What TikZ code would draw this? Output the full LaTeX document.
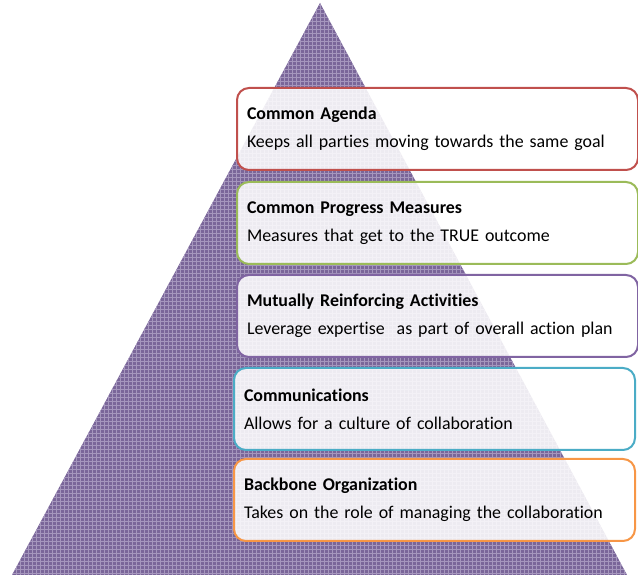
\documentclass[tikz,border=0pt]{standalone}
\usepackage{fontspec}
\setmainfont{Carlito}[Ligatures=NoCommon, WordSpace=0.7]
\usepackage{tikz}

\definecolor{pyramid}{HTML}{7A6699}
\definecolor{pyramidgrid}{HTML}{A596BD}
\definecolor{agendared}{HTML}{C0504D}
\definecolor{progressgreen}{HTML}{9BBB59}
\definecolor{activitiespurple}{HTML}{8064A2}
\definecolor{commsblue}{HTML}{4BACC6}
\definecolor{backboneorange}{HTML}{F79646}

\tikzset{layer/.style={draw=#1, line width=2pt, rounded corners=12pt,
                       fill=white, fill opacity=0.87, text opacity=1,
                       anchor=north west, minimum height=82pt,
                       text width=381pt, inner xsep=10pt, align=left,
                       font=\fontsize{17.9}{28}\selectfont}}

\begin{document}
\begin{tikzpicture}[x=1pt, y=1pt]
                      \useasboundingbox (0,0) rectangle (638,577);
                      \coordinate (apex) at (320,574);
                      \coordinate (baseL) at (12,2);
                      \coordinate (baseR) at (627,2);

                      % pyramid with its checked fill
                      \begin{scope}
                              \clip (apex) -- (baseL) -- (baseR) -- cycle;
                              \fill[pyramid] (0,0) rectangle (638,577);
                              \draw[pyramidgrid, line width=0.6pt, step=4] (0,0) grid (640,580);
                          \end{scope}

                      \foreach \name/\col/\x/\y/\title/\desc in {
                              agenda/agendared/236/490/Common Agenda/Keeps all parties moving towards the same goal,
                              progress/progressgreen/236/396/Common Progress Measures/Measures that get to the TRUE outcome,
                              activities/activitiespurple/236/303/Mutually Reinforcing Activities/Leverage expertise\ \ as part of overall action plan,
                              comms/commsblue/233/210/Communications/Allows for a culture of collaboration,
                              backbone/backboneorange/233/119/Backbone Organization/Takes on the role of managing the collaboration} {
                              \node[layer=\col] (\name) at (\x,\y) {\textbf{\title}\\\desc};
                          }
                  \end{tikzpicture}
\end{document}
